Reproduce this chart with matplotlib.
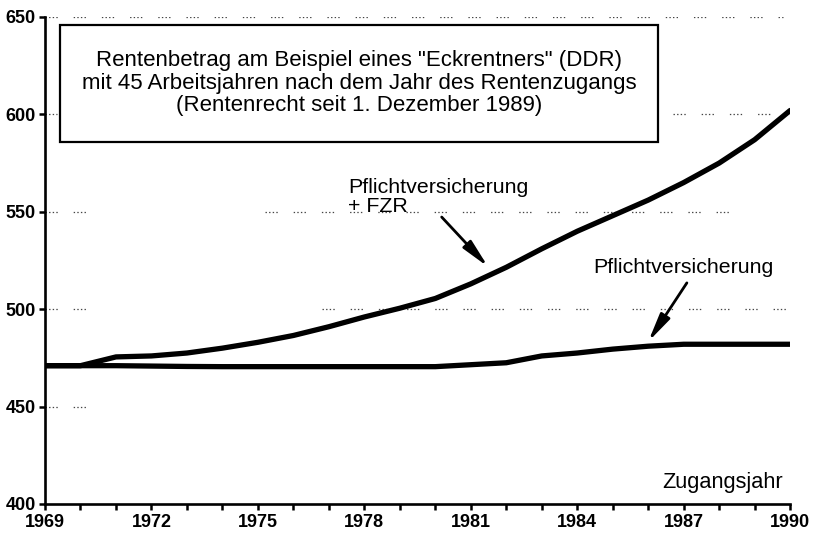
import matplotlib
matplotlib.use('Agg')
import matplotlib.pyplot as plt
from matplotlib.ticker import MultipleLocator, FixedLocator

plt.rcParams['font.family'] = ['Liberation Sans', 'DejaVu Sans']
plt.rcParams['lines.scale_dashes'] = False

# data
years = list(range(1969, 1991))
pflicht_fzr = [471, 471, 475.5, 476, 477.5, 480, 483, 486.5, 491, 496,
               500.5, 505.5, 513, 521.5, 531, 540, 548, 556, 565, 575,
               587, 602]
pflicht = [471, 471, 471, 470.8, 470.6, 470.5, 470.5, 470.5, 470.5, 470.5,
           470.5, 470.5, 471.5, 472.5, 476, 477.5, 479.5, 481, 482, 482,
           482, 482]

y_ticks = [400, 450, 500, 550, 600, 650]
x_ticks = [1969, 1972, 1975, 1978, 1981, 1984, 1987, 1990]

title_text = ('Rentenbetrag am Beispiel eines "Eckrentners" (DDR)\n'
              'mit 45 Arbeitsjahren nach dem Jahr des Rentenzugangs\n'
              '(Rentenrecht seit 1. Dezember 1989)')

fig = plt.figure(figsize=(8.17, 5.34), dpi=100)
ax = fig.add_axes([0.0551, 0.0562, 0.912, 0.912])

# broken dotted grid, as in the scan
dots = (0, (1.0, 1.6, 1.0, 1.6, 1.0, 1.6, 1.0, 11.5))
grid_kw = dict(color='#444444', lw=0.9, linestyle=dots, zorder=1)
ax.hlines(650, 1969, 1989.8, **grid_kw)
ax.hlines(600, 1969, 1969.35, **grid_kw)
ax.hlines(600, 1986.7, 1990, **grid_kw)
ax.hlines(550, 1969, 1970.3, **grid_kw)
ax.hlines(550, 1975.2, 1988.3, **grid_kw)
ax.hlines(500, 1969, 1970.2, **grid_kw)
ax.hlines(500, 1976.8, 1990, **grid_kw)
ax.hlines(450, 1969, 1970.3, **grid_kw)

ax.plot(years, pflicht_fzr, color='black', lw=3.8, solid_capstyle='round', zorder=3)
ax.plot(years, pflicht, color='black', lw=3.8, solid_capstyle='round', zorder=3)

ax.set_xlim(1969, 1990)
ax.set_ylim(400, 650)

for s in ['top', 'right']:
    ax.spines[s].set_visible(False)
for s in ['left', 'bottom']:
    ax.spines[s].set_linewidth(1.9)

ax.yaxis.set_major_locator(FixedLocator(y_ticks))
ax.xaxis.set_major_locator(FixedLocator(x_ticks))
ax.xaxis.set_minor_locator(MultipleLocator(1))
ax.tick_params(axis='both', which='both', direction='out', length=4.5, width=1.8)
ax.tick_params(axis='x', pad=3)
ax.tick_params(axis='y', pad=2)
for lab in ax.get_xticklabels() + ax.get_yticklabels():
    lab.set_fontweight('bold')
    lab.set_fontsize(13)

# title box
ax.text(1977.86, 616.0, title_text, ha='center', va='center', fontsize=16,
        linespacing=1.1, zorder=4)
box = plt.Rectangle((1969.42, 585.8), 1986.28 - 1969.42, 645.9 - 585.8,
                    fill=False, ec='black', lw=1.6, zorder=4)
ax.add_patch(box)

# labels and arrows
arrow_kw = dict(arrowstyle='-|>,head_width=0.33,head_length=1.7',
                lw=2, color='black', shrinkA=0, shrinkB=0)
ax.text(1977.55, 557.5, 'Pflichtversicherung\n+ FZR', ha='left', va='center',
        fontsize=15.4, linespacing=1.0, zorder=4)
ax.annotate('', xy=(1981.49, 521.7), xytext=(1980.18, 547.3),
            arrowprops=arrow_kw)
ax.text(1986.98, 521.3, 'Pflichtversicherung', ha='center', va='center',
        fontsize=15.4, zorder=4)
ax.annotate('', xy=(1986.0, 483.3), xytext=(1987.09, 513.5),
            arrowprops=arrow_kw)
ax.text(1989.8, 410.8, 'Zugangsjahr', ha='right', va='center', fontsize=15.7)

plt.savefig('out.png', dpi=100)
